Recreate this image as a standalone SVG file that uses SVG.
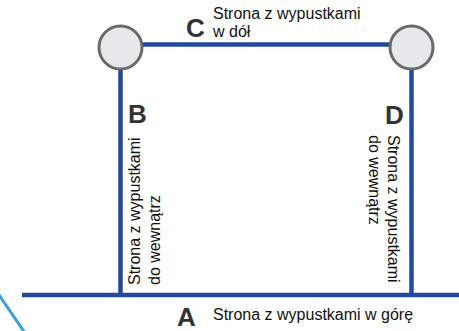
<svg xmlns="http://www.w3.org/2000/svg" width="459" height="331" viewBox="0 0 459 331">
<style>
.ln{stroke:#24499b;stroke-width:4.5;fill:none}
.nd{fill:#e7e8eb;stroke:#6a6a6a;stroke-width:3}
.lt{font-family:"Liberation Sans",Arial,sans-serif;font-weight:bold;font-size:26px;fill:#333}
.tx{font-family:"Liberation Sans",Arial,sans-serif;font-size:16px;fill:#111}
</style>
<rect width="459" height="331" fill="#fff"/>
<g id="connectors">
<line class="ln" x1="120.5" y1="44.5" x2="411.5" y2="44.5"/>
<line class="ln" x1="120.5" y1="47" x2="120.5" y2="295"/>
<line class="ln" x1="411.5" y1="47" x2="411.5" y2="295"/>
<line class="ln" x1="22" y1="295" x2="459" y2="295"/>
<line x1="-3" y1="292" x2="25" y2="333" stroke="#3a9fd9" stroke-width="3"/>
</g>
<g id="node-left"><circle class="nd" cx="120.5" cy="47.5" r="21.5"/></g>
<g id="node-right"><circle class="nd" cx="411.5" cy="47.5" r="21.5"/></g>
<g id="label-C">
<text class="lt" x="186" y="37">C</text>
<text class="tx" x="213" y="19">Strona z wypustkami</text>
<text class="tx" x="213" y="37">w dół</text>
</g>
<g id="label-B">
<text class="lt" x="128" y="123" font-size="24">B</text>
<text class="tx" transform="translate(140,285) rotate(-90)">Strona z wypustkami</text>
<text class="tx" transform="translate(160,285) rotate(-90)">do wewnątrz</text>
</g>
<g id="label-D">
<text class="lt" x="385" y="124" font-size="24">D</text>
<text class="tx" transform="translate(388,135) rotate(90)">Strona z wypustkami</text>
<text class="tx" transform="translate(369,135) rotate(90)">do wewnątrz</text>
</g>
<g id="label-A">
<text class="lt" x="177" y="326" font-size="24">A</text>
<text class="tx" x="213" y="320">Strona z wypustkami w górę</text>
</g>
</svg>
